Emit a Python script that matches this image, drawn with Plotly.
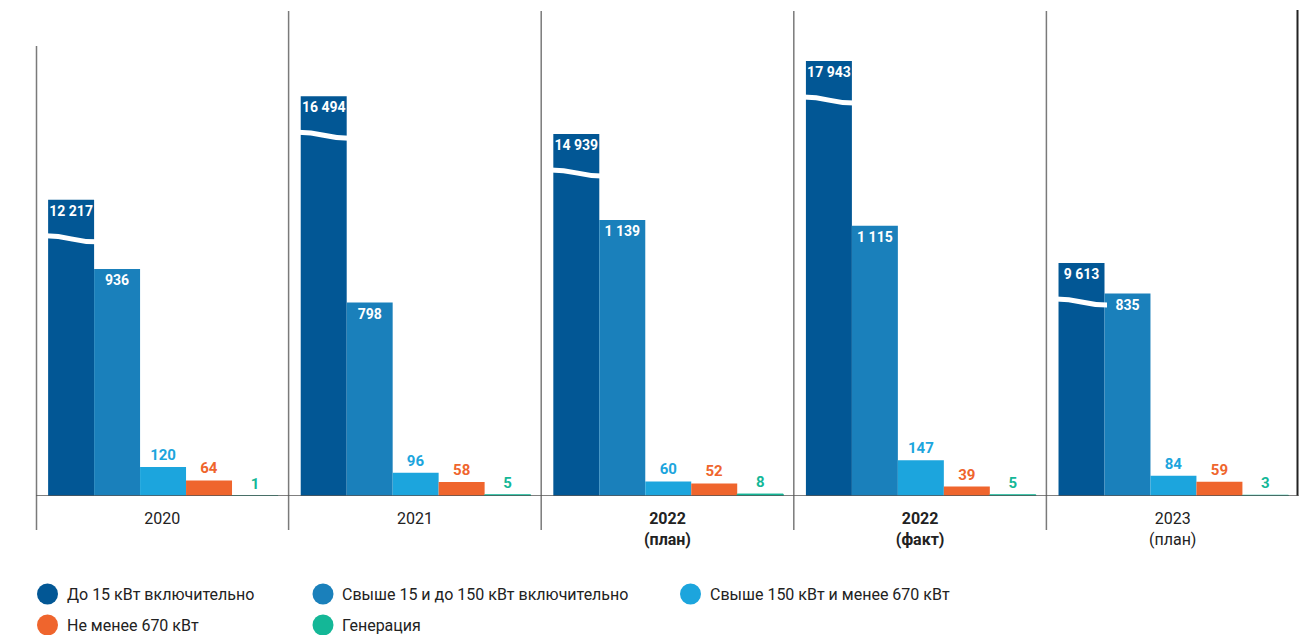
import plotly.graph_objects as go

# ---- data ----
categories = ["2020", "2021", "2022 (план)", "2022 (факт)", "2023 (план)"]
tick_labels = ["2020", "2021", "<b>2022</b><br><b>(план)</b>", "<b>2022</b><br><b>(факт)</b>", "2023<br>(план)"]
series_names = [
    "До 15 кВт включительно",
    "Свыше 15 и до 150 кВт включительно",
    "Свыше 150 кВт и менее 670 кВт",
    "Не менее 670 кВт",
    "Генерация",
]
upto15 = [12217, 16494, 14939, 17943, 9613]
from15to150 = [936, 798, 1139, 1115, 835]
from150to670 = [120, 96, 60, 147, 84]
over670 = [64, 58, 52, 39, 59]
generation = [1, 5, 8, 5, 3]

# the first series is drawn on a broken (1:10) scale
BROKEN_SCALE = 0.1

colors = ["#025795", "#1a80bb", "#1ca5dd", "#ef652d", "#14b797"]
FONT = "Roboto, Liberation Sans, sans-serif"

W, H = 1303, 635
ML, MR, MT, MB = 36, 4, 10, 139
PLOT_W = W - ML - MR
PLOT_H = H - MT - MB
YMAX = 2005
PXU = PLOT_H / YMAX  # pixels per unit

BAR_W = 0.182
GROUP_START = -0.452


def fmt(v):
    return f"{v:,}".replace(",", " ")


def px_x(px):
    return (px - ML) / PLOT_W


def px_y(py):
    return (H - MB - py) / PLOT_H


all_series = [upto15, from15to150, from150to670, over670, generation]
fig = go.Figure()

for j, vals in enumerate(all_series):
    shown = [v * BROKEN_SCALE for v in vals] if j == 0 else vals
    if j <= 1:
        kw = dict(textposition="inside", insidetextanchor="end",
                  insidetextfont=dict(color="white", size=14, family=FONT, weight="bold"))
    else:
        kw = dict(textposition="outside",
                  outsidetextfont=dict(color=colors[j], size=15, family=FONT, weight="bold"))
    fig.add_trace(go.Bar(
        x=list(range(len(categories))), y=shown,
        text=[fmt(v) for v in vals], name=series_names[j],
        width=BAR_W, offset=GROUP_START + j * BAR_W,
        marker=dict(color=colors[j], line=dict(color=colors[j], width=1 if j == 4 else 0)),
        constraintext="none", cliponaxis=False, textangle=0,
        showlegend=False, hoverinfo="skip", **kw))

shapes = []
annotations = []

# wave breaks on the first series
for i, v in enumerate(upto15):
    top = v * BROKEN_SCALE
    xl = i + GROUP_START - 0.01
    xr = i + GROUP_START + BAR_W + 0.01
    xm = (xl + xr) / 2
    yl = top - 36 / PXU
    yr = top - 42 / PXU
    shapes.append(dict(type="path", xref="x", yref="y",
                       path=f"M {xl},{yl} C {xm},{yl} {xm},{yr} {xr},{yr}",
                       line=dict(color="white", width=5)))

# separators and frame lines
for i in range(1, len(categories)):
    shapes.append(dict(type="line", xref="x", yref="paper", x0=i - 0.5, x1=i - 0.5,
                       y0=px_y(530), y1=px_y(11), line=dict(color="#7a7a7a", width=1.5)))
shapes.append(dict(type="line", xref="paper", yref="paper", x0=px_x(36.5), x1=px_x(36.5),
                   y0=px_y(530), y1=px_y(46), line=dict(color="#7a7a7a", width=1.5)))
shapes.append(dict(type="line", xref="paper", yref="paper", x0=px_x(1297.5), x1=px_x(1297.5),
                   y0=0, y1=px_y(10), line=dict(color="#222222", width=2)))
shapes.append(dict(type="line", xref="paper", yref="y", x0=0, x1=px_x(1298.5),
                   y0=0, y1=0, line=dict(color="#555555", width=1.5)))

# legend: circle + label, laid out in three columns, two rows
legend_cols = [47.5, 323, 690.5, 47.5, 323]
legend_rows = [594, 594, 594, 625, 625]
R = 10.5
for j, name in enumerate(series_names):
    cx, cy = legend_cols[j], legend_rows[j]
    shapes.append(dict(type="circle", xref="paper", yref="paper",
                       x0=px_x(cx - R), x1=px_x(cx + R), y0=px_y(cy + R), y1=px_y(cy - R),
                       fillcolor=colors[j], line=dict(width=0)))
    annotations.append(dict(xref="paper", yref="paper", x=px_x(cx + 17), y=px_y(cy),
                            xanchor="left", yanchor="middle", text=name, showarrow=False,
                            font=dict(family=FONT, size=16, color="#222222")))

fig.update_layout(
    width=W, height=H,
    margin=dict(l=ML, r=MR, t=MT, b=MB),
    plot_bgcolor="white", paper_bgcolor="white",
    font=dict(family=FONT, color="#222222"),
    showlegend=False,
    xaxis=dict(range=[-0.5, len(categories) - 0.5], tickvals=list(range(len(categories))),
               ticktext=tick_labels, showgrid=False, zeroline=False, showline=False,
               ticks="outside", ticklen=8, tickcolor="rgba(0,0,0,0)",
               tickfont=dict(family=FONT, size=16, color="#222222"), fixedrange=True),
    yaxis=dict(range=[0, YMAX], visible=False, fixedrange=True),
    shapes=shapes,
    annotations=annotations,
)

fig.write_html(
    "out.html", config={"displayModeBar": False},
    post_script="document.body.style.margin='0';document.body.style.overflow='hidden';"
                "document.documentElement.style.overflow='hidden';")
